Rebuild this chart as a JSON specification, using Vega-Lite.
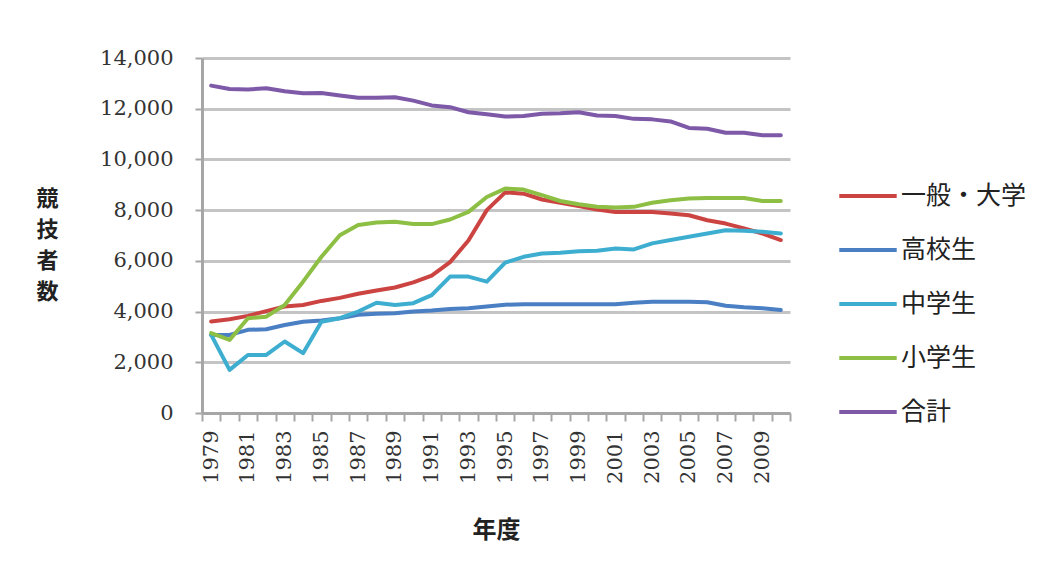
{
  "$schema": "https://vega.github.io/schema/vega-lite/v6.json",
  "autosize": {"type": "none"},
  "width": 588,
  "height": 355,
  "padding": {"left": 202, "top": 58, "right": 260, "bottom": 160},
  "background": "white",
  "data": {
    "values": [
      {"year": "1979", "series": "一般・大学", "value": 3610},
      {"year": "1980", "series": "一般・大学", "value": 3700},
      {"year": "1981", "series": "一般・大学", "value": 3830},
      {"year": "1982", "series": "一般・大学", "value": 4020},
      {"year": "1983", "series": "一般・大学", "value": 4200},
      {"year": "1984", "series": "一般・大学", "value": 4260},
      {"year": "1985", "series": "一般・大学", "value": 4420},
      {"year": "1986", "series": "一般・大学", "value": 4540},
      {"year": "1987", "series": "一般・大学", "value": 4700},
      {"year": "1988", "series": "一般・大学", "value": 4830},
      {"year": "1989", "series": "一般・大学", "value": 4950},
      {"year": "1990", "series": "一般・大学", "value": 5150},
      {"year": "1991", "series": "一般・大学", "value": 5420},
      {"year": "1992", "series": "一般・大学", "value": 5950},
      {"year": "1993", "series": "一般・大学", "value": 6800},
      {"year": "1994", "series": "一般・大学", "value": 8000},
      {"year": "1995", "series": "一般・大学", "value": 8700},
      {"year": "1996", "series": "一般・大学", "value": 8650},
      {"year": "1997", "series": "一般・大学", "value": 8420},
      {"year": "1998", "series": "一般・大学", "value": 8290},
      {"year": "1999", "series": "一般・大学", "value": 8160},
      {"year": "2000", "series": "一般・大学", "value": 8020},
      {"year": "2001", "series": "一般・大学", "value": 7930},
      {"year": "2002", "series": "一般・大学", "value": 7930},
      {"year": "2003", "series": "一般・大学", "value": 7930},
      {"year": "2004", "series": "一般・大学", "value": 7870},
      {"year": "2005", "series": "一般・大学", "value": 7800},
      {"year": "2006", "series": "一般・大学", "value": 7600},
      {"year": "2007", "series": "一般・大学", "value": 7470},
      {"year": "2008", "series": "一般・大学", "value": 7280},
      {"year": "2009", "series": "一般・大学", "value": 7080},
      {"year": "2010", "series": "一般・大学", "value": 6820},

      {"year": "1979", "series": "高校生", "value": 3080},
      {"year": "1980", "series": "高校生", "value": 3080},
      {"year": "1981", "series": "高校生", "value": 3280},
      {"year": "1982", "series": "高校生", "value": 3300},
      {"year": "1983", "series": "高校生", "value": 3470},
      {"year": "1984", "series": "高校生", "value": 3600},
      {"year": "1985", "series": "高校生", "value": 3650},
      {"year": "1986", "series": "高校生", "value": 3740},
      {"year": "1987", "series": "高校生", "value": 3870},
      {"year": "1988", "series": "高校生", "value": 3910},
      {"year": "1989", "series": "高校生", "value": 3930},
      {"year": "1990", "series": "高校生", "value": 4000},
      {"year": "1991", "series": "高校生", "value": 4040},
      {"year": "1992", "series": "高校生", "value": 4100},
      {"year": "1993", "series": "高校生", "value": 4130},
      {"year": "1994", "series": "高校生", "value": 4200},
      {"year": "1995", "series": "高校生", "value": 4270},
      {"year": "1996", "series": "高校生", "value": 4290},
      {"year": "1997", "series": "高校生", "value": 4290},
      {"year": "1998", "series": "高校生", "value": 4290},
      {"year": "1999", "series": "高校生", "value": 4290},
      {"year": "2000", "series": "高校生", "value": 4290},
      {"year": "2001", "series": "高校生", "value": 4290},
      {"year": "2002", "series": "高校生", "value": 4350},
      {"year": "2003", "series": "高校生", "value": 4390},
      {"year": "2004", "series": "高校生", "value": 4390},
      {"year": "2005", "series": "高校生", "value": 4390},
      {"year": "2006", "series": "高校生", "value": 4370},
      {"year": "2007", "series": "高校生", "value": 4230},
      {"year": "2008", "series": "高校生", "value": 4170},
      {"year": "2009", "series": "高校生", "value": 4130},
      {"year": "2010", "series": "高校生", "value": 4060},

      {"year": "1979", "series": "中学生", "value": 3080},
      {"year": "1980", "series": "中学生", "value": 1700},
      {"year": "1981", "series": "中学生", "value": 2290},
      {"year": "1982", "series": "中学生", "value": 2290},
      {"year": "1983", "series": "中学生", "value": 2820},
      {"year": "1984", "series": "中学生", "value": 2360},
      {"year": "1985", "series": "中学生", "value": 3600},
      {"year": "1986", "series": "中学生", "value": 3740},
      {"year": "1987", "series": "中学生", "value": 4000},
      {"year": "1988", "series": "中学生", "value": 4350},
      {"year": "1989", "series": "中学生", "value": 4260},
      {"year": "1990", "series": "中学生", "value": 4330},
      {"year": "1991", "series": "中学生", "value": 4650},
      {"year": "1992", "series": "中学生", "value": 5380},
      {"year": "1993", "series": "中学生", "value": 5380},
      {"year": "1994", "series": "中学生", "value": 5180},
      {"year": "1995", "series": "中学生", "value": 5930},
      {"year": "1996", "series": "中学生", "value": 6160},
      {"year": "1997", "series": "中学生", "value": 6290},
      {"year": "1998", "series": "中学生", "value": 6320},
      {"year": "1999", "series": "中学生", "value": 6380},
      {"year": "2000", "series": "中学生", "value": 6400},
      {"year": "2001", "series": "中学生", "value": 6490},
      {"year": "2002", "series": "中学生", "value": 6450},
      {"year": "2003", "series": "中学生", "value": 6690},
      {"year": "2004", "series": "中学生", "value": 6820},
      {"year": "2005", "series": "中学生", "value": 6950},
      {"year": "2006", "series": "中学生", "value": 7080},
      {"year": "2007", "series": "中学生", "value": 7210},
      {"year": "2008", "series": "中学生", "value": 7190},
      {"year": "2009", "series": "中学生", "value": 7150},
      {"year": "2010", "series": "中学生", "value": 7080},

      {"year": "1979", "series": "小学生", "value": 3150},
      {"year": "1980", "series": "小学生", "value": 2880},
      {"year": "1981", "series": "小学生", "value": 3740},
      {"year": "1982", "series": "小学生", "value": 3800},
      {"year": "1983", "series": "小学生", "value": 4260},
      {"year": "1984", "series": "小学生", "value": 5180},
      {"year": "1985", "series": "小学生", "value": 6160},
      {"year": "1986", "series": "小学生", "value": 7010},
      {"year": "1987", "series": "小学生", "value": 7410},
      {"year": "1988", "series": "小学生", "value": 7510},
      {"year": "1989", "series": "小学生", "value": 7540},
      {"year": "1990", "series": "小学生", "value": 7450},
      {"year": "1991", "series": "小学生", "value": 7450},
      {"year": "1992", "series": "小学生", "value": 7630},
      {"year": "1993", "series": "小学生", "value": 7930},
      {"year": "1994", "series": "小学生", "value": 8520},
      {"year": "1995", "series": "小学生", "value": 8850},
      {"year": "1996", "series": "小学生", "value": 8810},
      {"year": "1997", "series": "小学生", "value": 8590},
      {"year": "1998", "series": "小学生", "value": 8360},
      {"year": "1999", "series": "小学生", "value": 8230},
      {"year": "2000", "series": "小学生", "value": 8130},
      {"year": "2001", "series": "小学生", "value": 8100},
      {"year": "2002", "series": "小学生", "value": 8130},
      {"year": "2003", "series": "小学生", "value": 8290},
      {"year": "2004", "series": "小学生", "value": 8390},
      {"year": "2005", "series": "小学生", "value": 8460},
      {"year": "2006", "series": "小学生", "value": 8480},
      {"year": "2007", "series": "小学生", "value": 8480},
      {"year": "2008", "series": "小学生", "value": 8480},
      {"year": "2009", "series": "小学生", "value": 8360},
      {"year": "2010", "series": "小学生", "value": 8360},

      {"year": "1979", "series": "合計", "value": 12910},
      {"year": "1980", "series": "合計", "value": 12780},
      {"year": "1981", "series": "合計", "value": 12760},
      {"year": "1982", "series": "合計", "value": 12810},
      {"year": "1983", "series": "合計", "value": 12690},
      {"year": "1984", "series": "合計", "value": 12610},
      {"year": "1985", "series": "合計", "value": 12620},
      {"year": "1986", "series": "合計", "value": 12520},
      {"year": "1987", "series": "合計", "value": 12430},
      {"year": "1988", "series": "合計", "value": 12430},
      {"year": "1989", "series": "合計", "value": 12450},
      {"year": "1990", "series": "合計", "value": 12320},
      {"year": "1991", "series": "合計", "value": 12130},
      {"year": "1992", "series": "合計", "value": 12060},
      {"year": "1993", "series": "合計", "value": 11860},
      {"year": "1994", "series": "合計", "value": 11780},
      {"year": "1995", "series": "合計", "value": 11690},
      {"year": "1996", "series": "合計", "value": 11710},
      {"year": "1997", "series": "合計", "value": 11800},
      {"year": "1998", "series": "合計", "value": 11820},
      {"year": "1999", "series": "合計", "value": 11860},
      {"year": "2000", "series": "合計", "value": 11730},
      {"year": "2001", "series": "合計", "value": 11710},
      {"year": "2002", "series": "合計", "value": 11600},
      {"year": "2003", "series": "合計", "value": 11580},
      {"year": "2004", "series": "合計", "value": 11500},
      {"year": "2005", "series": "合計", "value": 11240},
      {"year": "2006", "series": "合計", "value": 11210},
      {"year": "2007", "series": "合計", "value": 11050},
      {"year": "2008", "series": "合計", "value": 11050},
      {"year": "2009", "series": "合計", "value": 10950},
      {"year": "2010", "series": "合計", "value": 10950}
    ]
  },
  "mark": {"type": "line", "strokeWidth": 4, "strokeJoin": "round", "strokeCap": "round"},
  "encoding": {
    "x": {
      "field": "year",
      "type": "ordinal",
      "bandPosition": 0.5,
      "scale": {"type": "band", "paddingInner": 0, "paddingOuter": 0},
      "axis": {
        "title": "年度",
        "titleFont": "Noto Sans CJK JP",
        "titleFontSize": 24,
        "titleFontWeight": "bold",
        "titleColor": "#222222",
        "titleBaseline": "middle",
        "titleY": 117,
        "tickBand": "extent",
        "ticks": true,
        "tickSize": 8,
        "tickWidth": 2,
        "tickColor": "#a6a6a6",
        "domainColor": "#a6a6a6",
        "domainWidth": 3,
        "labelAngle": -90,
        "labelAlign": "right",
        "labelBaseline": "middle",
        "labelPadding": 9,
        "labelFont": "DejaVu Serif",
        "labelFontSize": 21,
        "labelColor": "#333333",
        "labelExpr": "parseInt(datum.label) % 2 == 1 ? datum.label : ''",
        "grid": false
      }
    },
    "y": {
      "field": "value",
      "type": "quantitative",
      "scale": {"domain": [0, 14000], "nice": false},
      "axis": {
        "values": [0, 2000, 4000, 6000, 8000, 10000, 12000, 14000],
        "format": ",d",
        "title": ["競", "技", "者", "数"],
        "titleAngle": 0,
        "titleFont": "Noto Sans CJK JP",
        "titleFontSize": 22,
        "titleFontWeight": "bold",
        "titleColor": "#222222",
        "titleLineHeight": 31,
        "titleAlign": "center",
        "titleBaseline": "top",
        "titleX": -155,
        "titleY": 130,
        "tickSize": 7,
        "tickWidth": 2,
        "tickColor": "#a6a6a6",
        "domainColor": "#a6a6a6",
        "domainWidth": 3,
        "labelPadding": 22,
        "labelFont": "DejaVu Serif",
        "labelFontSize": 21,
        "labelColor": "#333333",
        "grid": true,
        "gridColor": "#c4c4c4",
        "gridWidth": 3
      }
    },
    "color": {
      "field": "series",
      "type": "nominal",
      "scale": {
        "domain": ["一般・大学", "高校生", "中学生", "小学生", "合計"],
        "range": ["#cc4442", "#4a7fc4", "#3eaed0", "#8dbf45", "#7d59a8"]
      },
      "legend": {
        "title": null,
        "orient": "none",
        "legendX": 635,
        "legendY": 107,
        "symbolType": "stroke",
        "symbolSize": 3300,
        "symbolStrokeWidth": 4,
        "labelFont": "Noto Sans CJK JP",
        "labelFontSize": 25,
        "labelColor": "#222222",
        "labelOffset": 2,
        "rowPadding": 10,
        "labelLimit": 300
      }
    }
  },
  "config": {
    "view": {"stroke": null}
  }
}
